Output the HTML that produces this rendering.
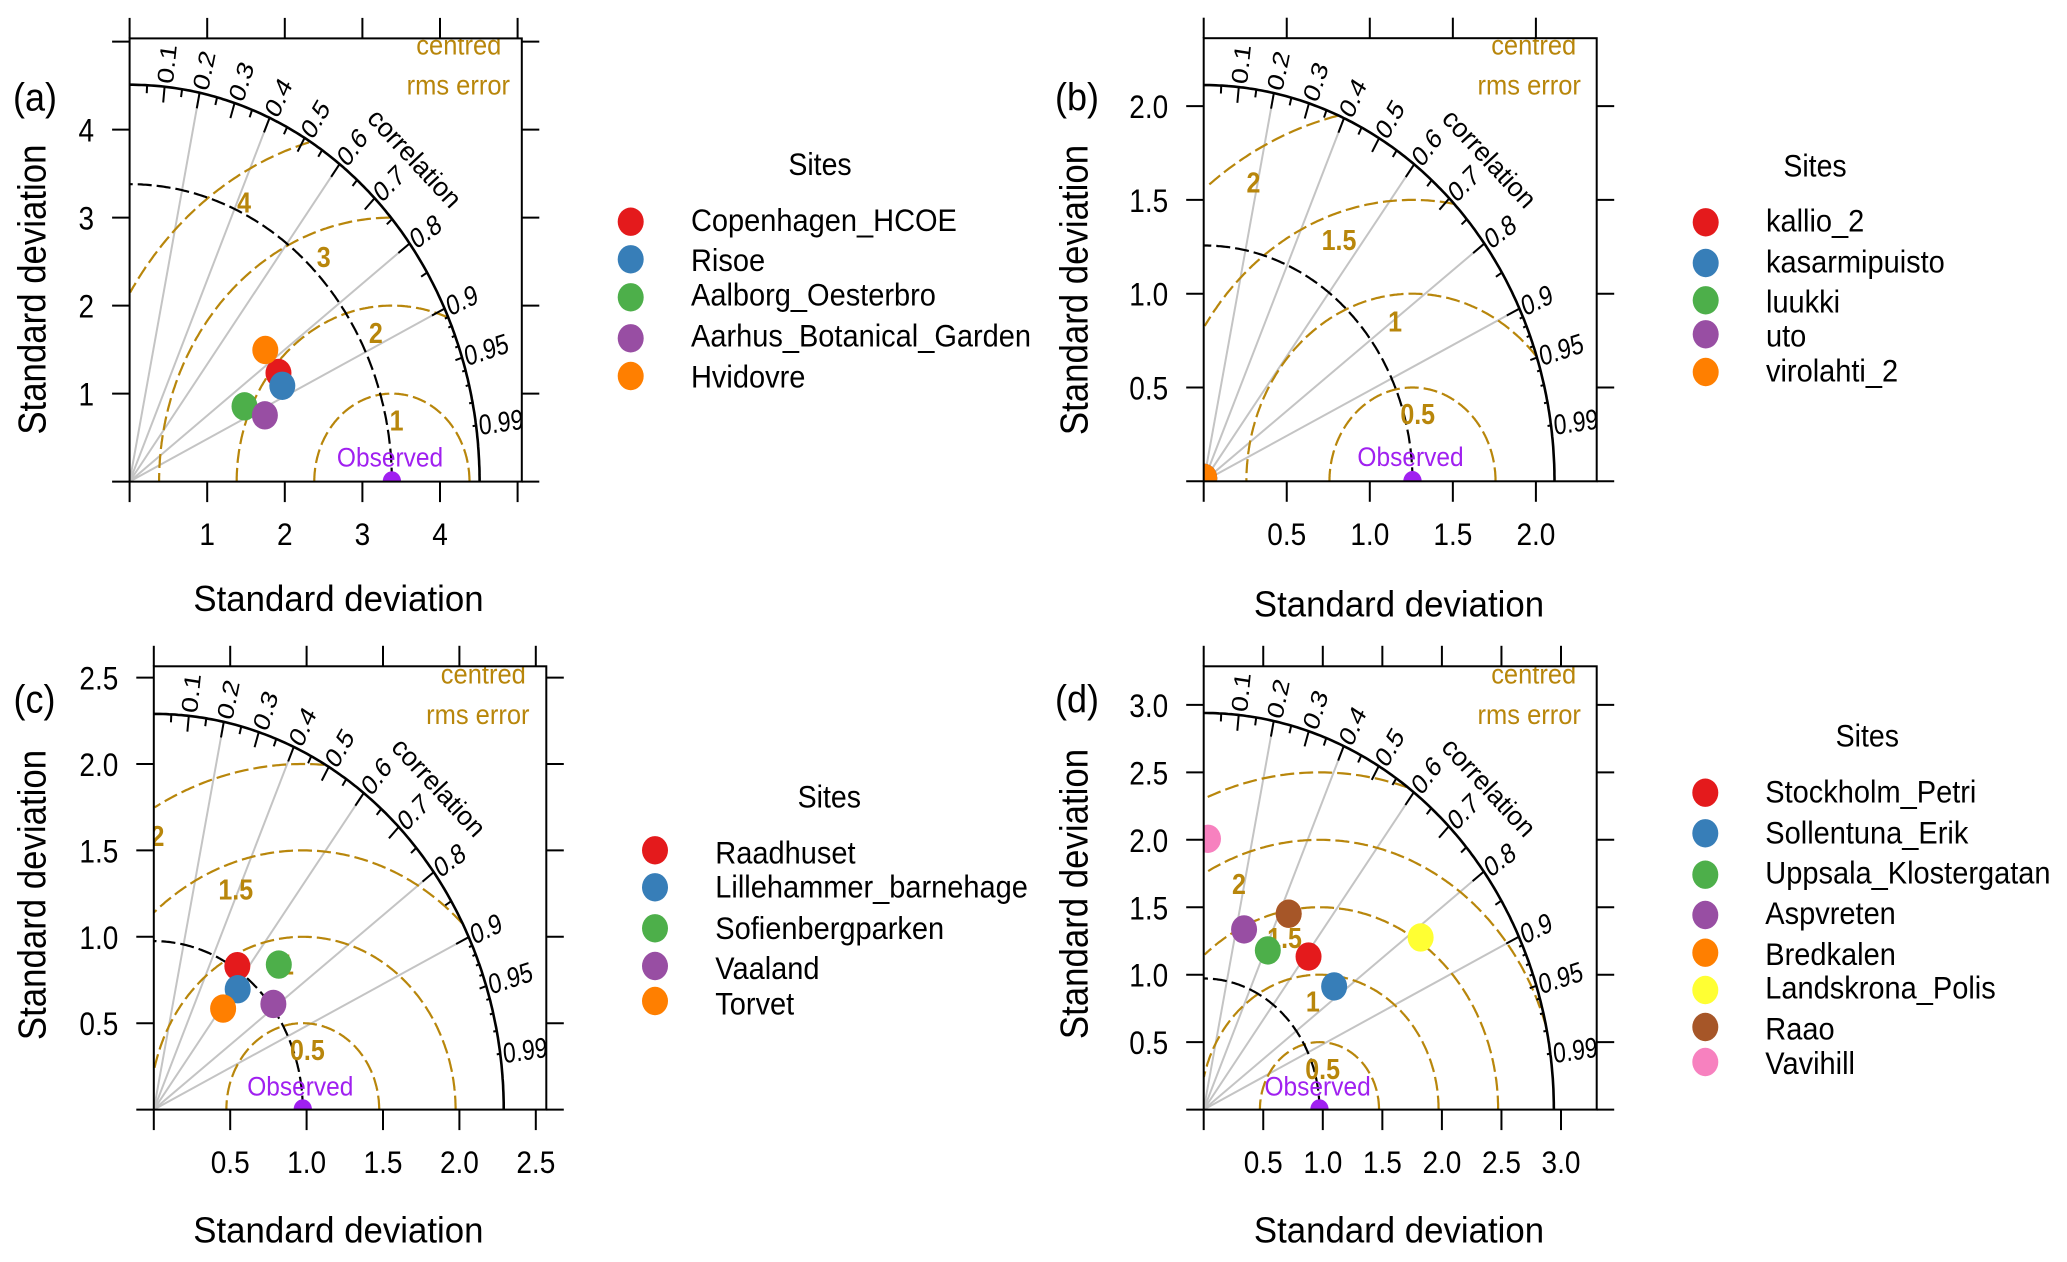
<!DOCTYPE html>
<html lang="en">
<head>
<meta charset="utf-8">
<title>Taylor diagrams</title>
<style>
html,body{margin:0;padding:0;background:#fff;}
svg{display:block;}
text{font-family:"Liberation Sans",sans-serif;fill:#000;}
.gold{fill:#B8860B;}
.title{font-size:34.8px;text-anchor:middle;}
.tag{font-size:36px;}
.leg{font-size:29px;}
.sites{font-size:28.5px;text-anchor:middle;}
.corr{font-size:26.5px;text-anchor:middle;}
.rmsnote{font-size:25.5px;text-anchor:middle;}
.obs{font-size:24.5px;text-anchor:middle;fill:#A020F0;}
</style>
</head>
<body>
<svg id="fig" xmlns="http://www.w3.org/2000/svg" width="2067" height="1262" viewBox="0 0 2067 1262">
<rect x="0" y="0" width="2067" height="1262" fill="#fff"/>
<defs>
<clipPath id="clip-a"><rect x="129.6" y="38.4" width="392.2" height="443.2"/></clipPath>
<clipPath id="clip-b"><rect x="1203.7" y="38.2" width="393" height="443.1"/></clipPath>
<clipPath id="clip-c"><rect x="153.8" y="666.3" width="392.5" height="443.3"/></clipPath>
<clipPath id="clip-d"><rect x="1203.7" y="666.3" width="393" height="443.3"/></clipPath>
</defs>

<g>
<g id="a-plot" clip-path="url(#clip-a)"></g>
<g clip-path="url(#clip-a)">
<text class="rmsnote gold" x="458.8" y="54.6">centred</text>
<text class="rmsnote gold" x="458.3" y="94.6">rms error</text>
<text class="corr" transform="translate(414.7 158.4) rotate(47)" dy="9">correlation</text>
<text class="obs" x="390" y="466.6">Observed</text>
</g>
<g id="a-axes"></g>
<text class="tag" transform="translate(13 110.7) scale(1 1.08)">(a)</text>
<text class="title" transform="translate(45.7 289.6) rotate(-90) scale(1 1.12)">Standard deviation</text>
<text class="title" transform="translate(338.5 611) scale(1 1.04)">Standard deviation</text>
</g>

<g>
<g id="b-plot" clip-path="url(#clip-b)"></g>
<g clip-path="url(#clip-b)">
<text class="rmsnote gold" x="1533.7" y="54.4">centred</text>
<text class="rmsnote gold" x="1529.2" y="94.4">rms error</text>
<text class="corr" transform="translate(1489.4 158.7) rotate(47)" dy="9">correlation</text>
<text class="obs" x="1410.5" y="466">Observed</text>
</g>
<g id="b-axes"></g>
<text class="tag" transform="translate(1055 110.5) scale(1 1.08)">(b)</text>
<text class="title" transform="translate(1087.5 290) rotate(-90) scale(1 1.12)">Standard deviation</text>
<text class="title" transform="translate(1399 616.7) scale(1 1.04)">Standard deviation</text>
</g>

<g>
<g id="c-plot" clip-path="url(#clip-c)"></g>
<g clip-path="url(#clip-c)">
<text class="rmsnote gold" x="483.3" y="683.6">centred</text>
<text class="rmsnote gold" x="477.8" y="724">rms error</text>
<text class="corr" transform="translate(438.8 787.4) rotate(47)" dy="9">correlation</text>
<text class="obs" x="300.3" y="1095.5">Observed</text>
</g>
<g id="c-axes"></g>
<text class="tag" transform="translate(13.5 712.6) scale(1 1.08)">(c)</text>
<text class="title" transform="translate(45.4 895) rotate(-90) scale(1 1.12)">Standard deviation</text>
<text class="title" transform="translate(338.4 1242.6) scale(1 1.04)">Standard deviation</text>
</g>

<g>
<g id="d-plot" clip-path="url(#clip-d)"></g>
<g clip-path="url(#clip-d)">
<text class="rmsnote gold" x="1533.7" y="683.6">centred</text>
<text class="rmsnote gold" x="1529.2" y="724">rms error</text>
<text class="corr" transform="translate(1488.9 787.4) rotate(47)" dy="9">correlation</text>
<text class="obs" x="1317.6" y="1095.5">Observed</text>
</g>
<g id="d-axes"></g>
<text class="tag" transform="translate(1055 712.6) scale(1 1.08)">(d)</text>
<text class="title" transform="translate(1087.5 894) rotate(-90) scale(1 1.12)">Standard deviation</text>
<text class="title" transform="translate(1399 1242.7) scale(1 1.04)">Standard deviation</text>
</g>

<g>
<text class="sites" x="820" y="175">Sites</text>
<ellipse cx="630.7" cy="221.7" rx="13" ry="14.2" fill="#E41A1C"/>
<text class="leg" x="691" y="231">Copenhagen_HCOE</text>
<ellipse cx="630.7" cy="259.3" rx="13" ry="14.2" fill="#377EB8"/>
<text class="leg" x="691" y="271">Risoe</text>
<ellipse cx="630.7" cy="297.3" rx="13" ry="14.2" fill="#4DAF4A"/>
<text class="leg" x="691" y="305.7">Aalborg_Oesterbro</text>
<ellipse cx="630.7" cy="338.3" rx="13" ry="14.2" fill="#984EA3"/>
<text class="leg" x="691" y="346.7">Aarhus_Botanical_Garden</text>
<ellipse cx="630.7" cy="376" rx="13" ry="14.2" fill="#FF7F00"/>
<text class="leg" x="691" y="387.3">Hvidovre</text>
</g>

<g>
<text class="sites" x="1815" y="176.7">Sites</text>
<ellipse cx="1705.7" cy="222.3" rx="13" ry="14.2" fill="#E41A1C"/>
<text class="leg" x="1766" y="231.7">kallio_2</text>
<ellipse cx="1705.7" cy="263" rx="13" ry="14.2" fill="#377EB8"/>
<text class="leg" x="1766" y="272.3">kasarmipuisto</text>
<ellipse cx="1705.7" cy="300.3" rx="13" ry="14.2" fill="#4DAF4A"/>
<text class="leg" x="1766" y="312.7">luukki</text>
<ellipse cx="1705.7" cy="334.3" rx="13" ry="14.2" fill="#984EA3"/>
<text class="leg" x="1766" y="346.7">uto</text>
<ellipse cx="1705.7" cy="372" rx="13" ry="14.2" fill="#FF7F00"/>
<text class="leg" x="1766" y="381.7">virolahti_2</text>
</g>

<g>
<text class="sites" x="829.3" y="807.3">Sites</text>
<ellipse cx="655" cy="850.3" rx="13" ry="14.2" fill="#E41A1C"/>
<text class="leg" x="715.3" y="863.3">Raadhuset</text>
<ellipse cx="655" cy="887.3" rx="13" ry="14.2" fill="#377EB8"/>
<text class="leg" x="715.3" y="897.3">Lillehammer_barnehage</text>
<ellipse cx="655" cy="928.3" rx="13" ry="14.2" fill="#4DAF4A"/>
<text class="leg" x="715.3" y="939">Sofienbergparken</text>
<ellipse cx="655" cy="966" rx="13" ry="14.2" fill="#984EA3"/>
<text class="leg" x="715.3" y="979">Vaaland</text>
<ellipse cx="655" cy="1001" rx="13" ry="14.2" fill="#FF7F00"/>
<text class="leg" x="715.3" y="1014.3">Torvet</text>
</g>

<g>
<text class="sites" x="1867.3" y="746.7">Sites</text>
<ellipse cx="1705.3" cy="792.7" rx="13" ry="14.2" fill="#E41A1C"/>
<text class="leg" x="1765.3" y="802.3">Stockholm_Petri</text>
<ellipse cx="1705.3" cy="833.3" rx="13" ry="14.2" fill="#377EB8"/>
<text class="leg" x="1765.3" y="843.3">Sollentuna_Erik</text>
<ellipse cx="1705.3" cy="874.7" rx="13" ry="14.2" fill="#4DAF4A"/>
<text class="leg" x="1765.3" y="883.3">Uppsala_Klostergatan</text>
<ellipse cx="1705.3" cy="915" rx="13" ry="14.2" fill="#984EA3"/>
<text class="leg" x="1765.3" y="924">Aspvreten</text>
<ellipse cx="1705.3" cy="952.7" rx="13" ry="14.2" fill="#FF7F00"/>
<text class="leg" x="1765.3" y="965">Bredkalen</text>
<ellipse cx="1705.3" cy="990" rx="13" ry="14.2" fill="#FFFF33"/>
<text class="leg" x="1765.3" y="998.7">Landskrona_Polis</text>
<ellipse cx="1705.3" cy="1027" rx="13" ry="14.2" fill="#A65628"/>
<text class="leg" x="1765.3" y="1039.3">Raao</text>
<ellipse cx="1705.3" cy="1062" rx="13" ry="14.2" fill="#F781BF"/>
<text class="leg" x="1765.3" y="1074">Vavihill</text>
</g>
</svg>

<script>
// Shared correlation scale
const corrMajor = [0.1, 0.2, 0.3, 0.4, 0.5, 0.6, 0.7, 0.8, 0.9];
const corrMedium = [0.05, 0.15, 0.25, 0.35, 0.45, 0.55, 0.65, 0.75, 0.85, 0.95];
const corrMinor = [0.91, 0.92, 0.93, 0.94, 0.96, 0.97, 0.98, 0.99];
const corrLabels = ['0.1', '0.2', '0.3', '0.4', '0.5', '0.6', '0.7', '0.8', '0.9', '0.95', '0.99'];
const corrRays = [0.2, 0.4, 0.6, 0.8, 0.9];
const siteColors = ['#E41A1C', '#377EB8', '#4DAF4A', '#984EA3', '#FF7F00', '#FFFF33', '#A65628', '#F781BF'];

// Panel (a)
const aSites = ['Copenhagen_HCOE', 'Risoe', 'Aalborg_Oesterbro', 'Aarhus_Botanical_Garden', 'Hvidovre'];
const aSd = [2.281, 2.249, 1.710, 1.899, 2.301];
const aCor = [0.841, 0.875, 0.866, 0.918, 0.760];
const aObservedSd = 3.38;
const aMaxSd = 4.51;
const aRms = [1, 2, 3, 4];
const aTicks = [0, 1, 2, 3, 4, 5];
const aTickLabels = ['', '1', '2', '3', '4', ''];

// Panel (b)
const bSites = ['kallio_2', 'kasarmipuisto', 'luukki', 'uto', 'virolahti_2'];
const bSd = [0.018, 0.018, 0.018, 0.018, 0.018];
const bCor = [0.16, 0.16, 0.16, 0.16, 0.16];
const bObservedSd = 1.257;
const bMaxSd = 2.112;
const bRms = [0.5, 1, 1.5, 2];
const bTicks = [0, 0.5, 1, 1.5, 2];
const bTickLabels = ['', '0.5', '1.0', '1.5', '2.0'];

// Panel (c)
const cSites = ['Raadhuset', 'Lillehammer_barnehage', 'Sofienbergparken', 'Vaaland', 'Torvet'];
const cSd = [0.994, 0.887, 1.172, 0.993, 0.740];
const cCor = [0.550, 0.619, 0.698, 0.788, 0.613];
const cObservedSd = 0.975;
const cMaxSd = 2.29;
const cRms = [0.5, 1, 1.5, 2];
const cTicks = [0, 0.5, 1, 1.5, 2, 2.5];
const cTickLabels = ['', '0.5', '1.0', '1.5', '2.0', '2.5'];

// Panel (d)
const dSites = ['Stockholm_Petri', 'Sollentuna_Erik', 'Uppsala_Klostergatan', 'Aspvreten', 'Bredkalen', 'Landskrona_Polis', 'Raao', 'Vavihill'];
const dSd = [1.436, 1.426, 1.297, 1.378, 1.618, 2.224, 1.618, 2.008];
const dCor = [0.613, 0.768, 0.415, 0.246, 0.441, 0.819, 0.441, 0.018];
const dObservedSd = 0.972;
const dMaxSd = 2.94;
const dRms = [0.5, 1, 1.5, 2, 2.5];
const dTicks = [0, 0.5, 1, 1.5, 2, 2.5, 3];
const dTickLabels = ['', '0.5', '1.0', '1.5', '2.0', '2.5', '3.0'];

const SVG_NS = 'http://www.w3.org/2000/svg';

function make(parent, tag, props) {
  const node = document.createElementNS(SVG_NS, tag);
  for (const key in props) node.setAttribute(key, props[key]);
  parent.appendChild(node);
  return node;
}

function drawPanel(id, frame, sites, sd, cor, observedSd, maxSd, rms, ticks, tickLabels) {
  const plot = document.getElementById(id + '-plot');
  const axes = document.getElementById(id + '-axes');
  const sx = function (v) { return frame.left + v * frame.kx; };
  const sy = function (v) { return frame.bottom - v * frame.ky; };
  const polarX = function (r, c) { return sx(r * c); };
  const polarY = function (r, c) { return sy(r * Math.sqrt(1 - c * c)); };

  // Radial correlation rays
  corrRays.forEach(function (c) {
    const ray = make(plot, 'line', { x1: sx(0), y1: sy(0), x2: polarX(maxSd, c), y2: polarY(maxSd, c), stroke: '#C4C4C4', 'stroke-width': 2 });
    
    
  });

  // Centred RMS arcs
  rms.forEach(function (level) {
    const pts = [];
    for (let deg = 0; deg <= 180; deg += 0.5) {
      const t = deg * Math.PI / 180;
      const x = observedSd + level * Math.cos(t);
      const y = level * Math.sin(t);
      if (x >= 0 && Math.sqrt(x * x + y * y) <= maxSd) pts.push(sx(x).toFixed(1) + ',' + sy(y).toFixed(1));
    }
    const arc = make(plot, 'polyline', { points: pts.join(' '), fill: 'none', stroke: '#B8860B', 'stroke-width': 2.2, 'stroke-dasharray': '14 5' });
    
    
  });

  // Observed standard deviation arc and outer arc
  const obsPts = [];
  const outerPts = [];
  for (let deg = 0; deg <= 90; deg += 0.5) {
    const t = deg * Math.PI / 180;
    obsPts.push(sx(observedSd * Math.cos(t)).toFixed(1) + ',' + sy(observedSd * Math.sin(t)).toFixed(1));
    outerPts.push(sx(maxSd * Math.cos(t)).toFixed(1) + ',' + sy(maxSd * Math.sin(t)).toFixed(1));
  }
  const obsArc = make(plot, 'polyline', { points: obsPts.join(' '), fill: 'none', stroke: '#000', 'stroke-width': 2.2, 'stroke-dasharray': '14 5' });
  
  

  const outerArc = make(plot, 'polyline', { points: outerPts.join(' '), fill: 'none', stroke: '#000', 'stroke-width': 2.6 });
  
  

  // Correlation ticks
  const tickSets = [[corrMajor, 0.96], [corrMedium, 0.98], [corrMinor, 0.99]];
  tickSets.forEach(function (set) {
    set[0].forEach(function (c) {
      const tick = make(plot, 'line', { x1: polarX(maxSd * set[1], c), y1: polarY(maxSd * set[1], c), x2: polarX(maxSd, c), y2: polarY(maxSd, c), stroke: '#000', 'stroke-width': 2 });
      
      
    });
  });

  // Correlation labels: radial, slightly stretched vertically like the source raster
  corrLabels.forEach(function (label) {
    const c = parseFloat(label);
    const stretch = 1.24;
    const deg = Math.atan(Math.sqrt(1 - c * c) / c / stretch) * 180 / Math.PI;
    const text = make(plot, 'text', { transform: 'translate(' + polarX(maxSd * 1.008, c) + ' ' + polarY(maxSd * 1.008, c) + ') scale(1 ' + stretch + ') rotate(' + (-deg) + ')', dy: 8, 'font-size': 23 });
    text.textContent = label;
    
    
  });

  // RMS labels: sit just inside each arc, fanning from 85 to 121 degrees
  rms.forEach(function (level, i) {
    const t = (85 + 36 * i / (rms.length - 1)) * Math.PI / 180;
    const r = level - 0.0667 * maxSd;
    const text = make(plot, 'text', { transform: 'translate(' + sx(observedSd + r * Math.cos(t)) + ' ' + (sy(r * Math.sin(t)) + 10) + ') scale(1 1.15)', 'text-anchor': 'middle', 'font-size': 25, 'font-weight': 'bold', class: 'gold' });
    text.textContent = String(level);
    
    
  });

  // Observed point
  const obsPoint = make(plot, 'ellipse', { cx: sx(observedSd), cy: sy(0), rx: 9.2, ry: 10.4, fill: '#A020F0' });
  
  

  // Site points
  sites.forEach(function (site, i) {
    const pt = make(plot, 'ellipse', { cx: polarX(sd[i], cor[i]), cy: polarY(sd[i], cor[i]), rx: 13, ry: 14.2, fill: siteColors[i] });
    
    
  });

  // Frame
  const box = make(axes, 'rect', { x: frame.left, y: frame.top, width: frame.right - frame.left, height: frame.bottom - frame.top, fill: 'none', stroke: '#000', 'stroke-width': 2 });
  
  

  // Axis ticks and labels
  ticks.forEach(function (v, i) {
    const xb = make(axes, 'line', { x1: sx(v), x2: sx(v), y1: frame.bottom, y2: frame.bottom + 20.5, stroke: '#000', 'stroke-width': 2 });
    
    
    const xt = make(axes, 'line', { x1: sx(v), x2: sx(v), y1: frame.top, y2: frame.top - 20.5, stroke: '#000', 'stroke-width': 2 });
    
    
    const yl = make(axes, 'line', { x1: frame.left, x2: frame.left - 17.5, y1: sy(v), y2: sy(v), stroke: '#000', 'stroke-width': 2 });
    
    
    const yr = make(axes, 'line', { x1: frame.right, x2: frame.right + 17.5, y1: sy(v), y2: sy(v), stroke: '#000', 'stroke-width': 2 });
    
    
    if (tickLabels[i]) {
      const xLab = make(axes, 'text', { transform: 'translate(' + sx(v) + ' ' + (frame.bottom + 63.5) + ') scale(1 1.12)', 'text-anchor': 'middle', 'font-size': 28 });
      xLab.textContent = tickLabels[i];
      
      
      const yLab = make(axes, 'text', { transform: 'translate(' + (frame.left - 35.5) + ' ' + (sy(v) + 12) + ') scale(1 1.15)', 'text-anchor': 'end', 'font-size': 28 });
      yLab.textContent = tickLabels[i];
      
      
    }
  });
}

drawPanel('a', { left: 129.6, right: 521.8, top: 38.4, bottom: 481.6, kx: 77.6, ky: 88 }, aSites, aSd, aCor, aObservedSd, aMaxSd, aRms, aTicks, aTickLabels);
drawPanel('b', { left: 1203.7, right: 1596.7, top: 38.2, bottom: 481.3, kx: 166.1, ky: 187.6 }, bSites, bSd, bCor, bObservedSd, bMaxSd, bRms, bTicks, bTickLabels);
drawPanel('c', { left: 153.8, right: 546.3, top: 666.3, bottom: 1109.6, kx: 152.8, ky: 172.8 }, cSites, cSd, cCor, cObservedSd, cMaxSd, cRms, cTicks, cTickLabels);
drawPanel('d', { left: 1203.7, right: 1596.7, top: 666.3, bottom: 1109.6, kx: 119.1, ky: 134.9 }, dSites, dSd, dCor, dObservedSd, dMaxSd, dRms, dTicks, dTickLabels);

// The source raster is stretched vertically; mimic it on horizontal labels
document.querySelectorAll('.leg, .sites, .rmsnote, .obs').forEach(function (node) {
  const x = node.getAttribute('x');
  const y = node.getAttribute('y');
  node.removeAttribute('x');
  node.removeAttribute('y');
  node.setAttribute('transform', 'translate(' + x + ' ' + y + ') scale(1 1.1)');
});
</script>
</body>
</html>
